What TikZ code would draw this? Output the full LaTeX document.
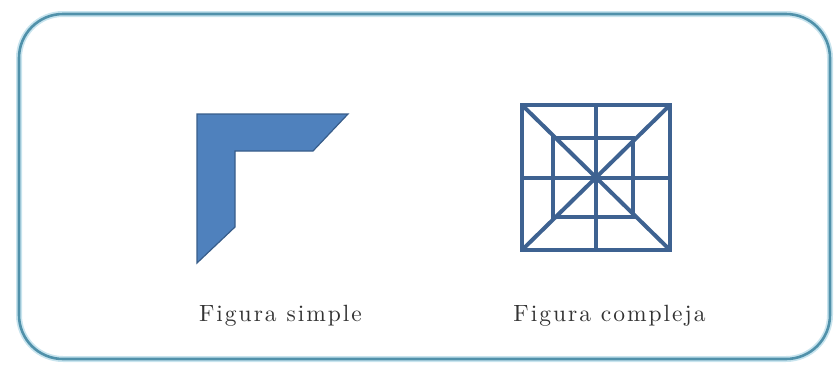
\documentclass[tikz,border=0pt]{standalone}
\usepackage{fontspec}
\setmainfont{Latin Modern Roman}
\newfontfamily\capfont{lmroman10-regular}[Extension=.otf,LetterSpace=8.5]
\definecolor{framec}{RGB}{80,145,170}
\definecolor{glowc}{RGB}{200,228,238}
\definecolor{shapefill}{RGB}{79,129,189}
\definecolor{shapeedge}{RGB}{56,93,138}
\definecolor{gridc}{RGB}{62,98,145}
\begin{document}
\begin{tikzpicture}[x=1pt,y=-1pt,
  frame/.style={draw=framec,line width=2.6pt,rounded corners=44pt},
  glow/.style={draw=glowc,line width=6pt,rounded corners=44pt},
  simpleshape/.style={fill=shapefill,draw=shapeedge,line width=1.2pt,line join=miter},
  gridline/.style={draw=gridc,line width=4pt},
  caption/.style={font=\capfont\fontsize{23.5}{26}\selectfont,text=black!80,anchor=base,inner sep=0pt}]
\useasboundingbox (0,0) rectangle (839,365);
\draw[glow] (19,14) rectangle (830,359);
\draw[frame] (19,14) rectangle (830,359);
% simple figure
\filldraw[simpleshape] (197,114) -- (348,114) -- (313,151) -- (235,151) -- (235,227) -- (197,263) -- cycle;
% complex figure
\coordinate (c) at (596,177.5);
\draw[gridline] (522,105) rectangle (670,250);
\draw[gridline] (553,138) rectangle (633,217);
\draw[gridline] (522,105) -- (670,250);
\draw[gridline] (670,105) -- (522,250);
\draw[gridline] (596,105) -- (596,250);
\draw[gridline] (522,177.5) -- (670,177.5);
% captions
\node[caption] (t1) at (280.5,321) {Figura simple};
\node[caption] (t2) at (609.5,321) {Figura compleja};
\end{tikzpicture}
\end{document}
